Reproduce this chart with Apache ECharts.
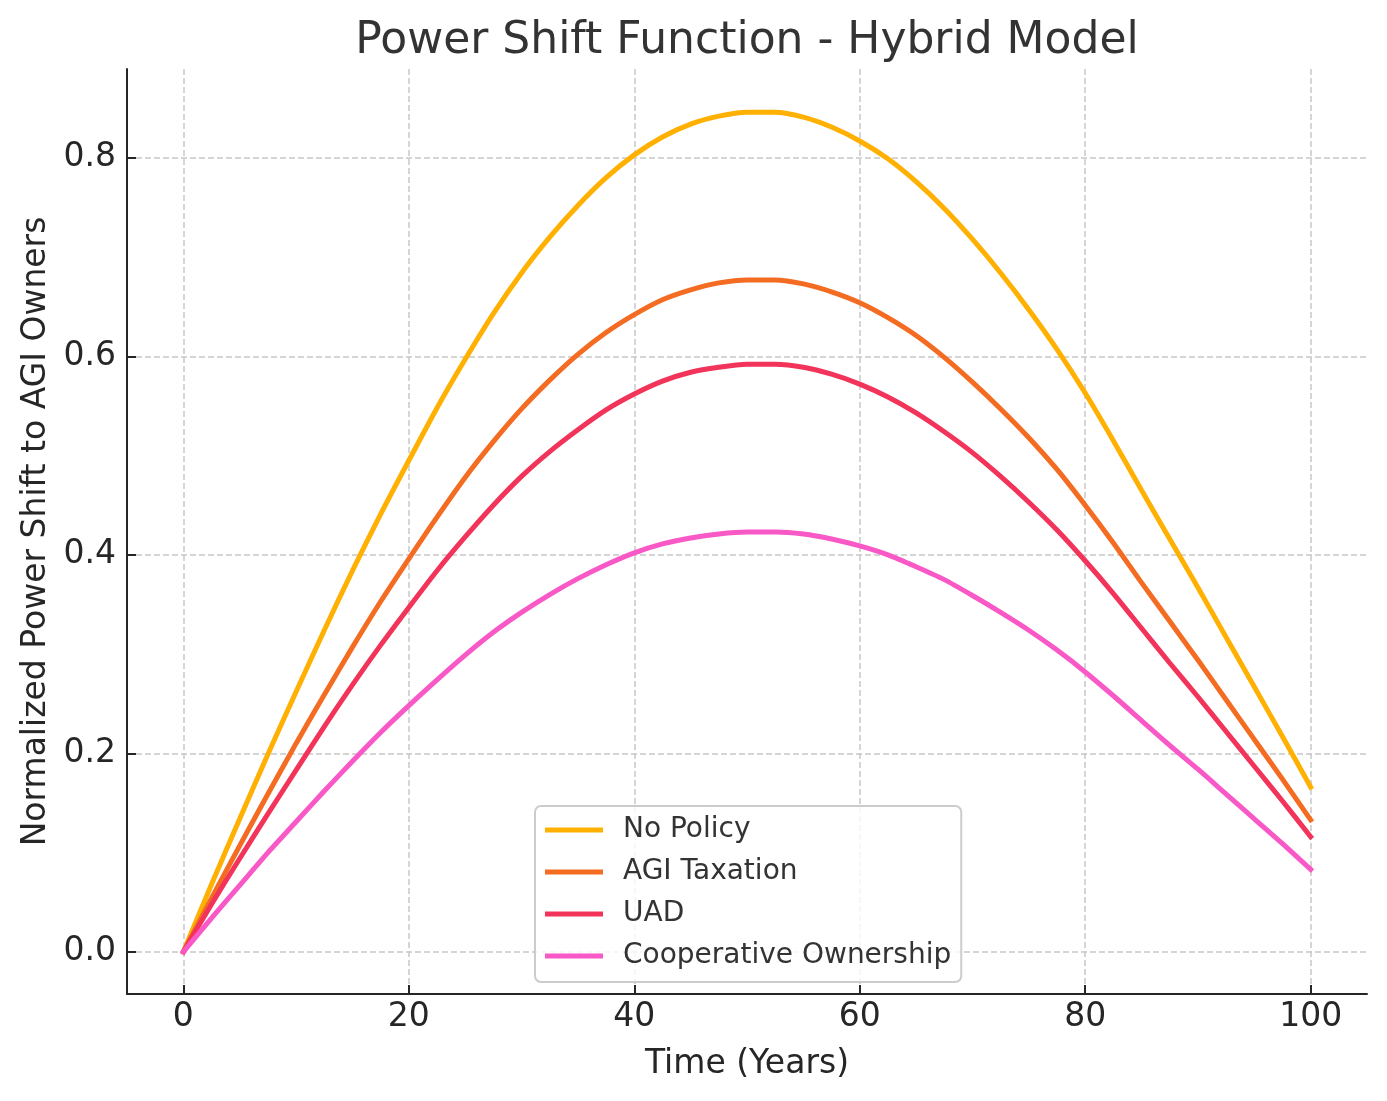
<!DOCTYPE html>
<html>
<head>
<meta charset="utf-8">
<script src="https://cdn.jsdelivr.net/npm/echarts@6/dist/echarts.min.js"></script>
<style>
  html, body { margin: 0; padding: 0; background: #ffffff; }
  #chart { width: 1387px; height: 1101px; }
</style>
</head>
<body>
<div id="chart"></div>
<script>
// ---- data (every 2.5 years) ----
const years = [0, 2.5, 5, 7.5, 10, 12.5, 15, 17.5, 20, 22.5, 25, 27.5, 30, 32.5, 35, 37.5, 40, 42.5, 45, 47.5, 50,
               52.5, 55, 57.5, 60, 62.5, 65, 67.5, 70, 72.5, 75, 77.5, 80, 82.5, 85, 87.5, 90, 92.5, 95, 97.5, 100];
const noPolicy = [0, 0.068, 0.134, 0.199, 0.262, 0.324, 0.384, 0.441, 0.495, 0.548, 0.597, 0.643, 0.684, 0.720, 0.752, 0.780, 0.803, 0.821, 0.834, 0.842, 0.846,
                  0.846, 0.841, 0.831, 0.817, 0.799, 0.776, 0.749, 0.718, 0.684, 0.647, 0.607, 0.563, 0.515, 0.465, 0.416, 0.367, 0.317, 0.267, 0.217, 0.166];
const agiTaxation = [0, 0.054, 0.107, 0.159, 0.210, 0.259, 0.307, 0.353, 0.396, 0.438, 0.478, 0.514, 0.547, 0.576, 0.602, 0.624, 0.642, 0.657, 0.667, 0.674, 0.677,
                     0.677, 0.673, 0.665, 0.654, 0.639, 0.621, 0.599, 0.574, 0.547, 0.518, 0.486, 0.450, 0.412, 0.372, 0.333, 0.294, 0.254, 0.214, 0.174, 0.133];
const uad = [0, 0.048, 0.094, 0.139, 0.183, 0.227, 0.269, 0.309, 0.347, 0.384, 0.418, 0.450, 0.479, 0.504, 0.526, 0.546, 0.562, 0.575, 0.584, 0.589, 0.592,
             0.592, 0.589, 0.582, 0.572, 0.559, 0.543, 0.524, 0.503, 0.479, 0.453, 0.425, 0.394, 0.361, 0.326, 0.291, 0.257, 0.222, 0.187, 0.152, 0.116];
const cooperative = [0, 0.034, 0.067, 0.100, 0.131, 0.162, 0.192, 0.221, 0.248, 0.274, 0.299, 0.322, 0.342, 0.360, 0.376, 0.390, 0.402, 0.411, 0.417, 0.421, 0.423,
                     0.423, 0.421, 0.416, 0.409, 0.400, 0.388, 0.375, 0.359, 0.342, 0.324, 0.304, 0.282, 0.258, 0.233, 0.208, 0.184, 0.159, 0.134, 0.109, 0.083];
const seriesNames = ['No Policy', 'AGI Taxation', 'UAD', 'Cooperative Ownership'];
const xTicks = [0, 20, 40, 60, 80, 100];
const yTicks = [0, 0.2, 0.4, 0.6, 0.8];

const colors = ['#FFB000', '#F46B22', '#F2345A', '#F859C6'];
const allValues = [noPolicy, agiTaxation, uad, cooperative];
const FONT = 'DejaVu Sans';

const chart = echarts.init(document.getElementById('chart'), null, { renderer: 'canvas' });

const series = allValues.map((vals, i) => ({
  name: seriesNames[i],
  type: 'line',
  data: years.map((x, j) => [x, vals[j]]),
  symbol: 'none',
  smooth: 0.25,
  lineStyle: { width: 5, color: colors[i], cap: 'square' },
  itemStyle: { color: colors[i] },
  z: 3 + i
}));

const gridStyle = { color: '#c8c8c8', width: 1.5, type: [6, 3] };

const option = {
  animation: false,
  backgroundColor: '#ffffff',
  title: {
    text: 'Power Shift Function - Hybrid Model',
    left: 747,
    top: 20,
    padding: 0,
    textAlign: 'center',
    textStyle: { fontFamily: FONT, fontSize: 44, fontWeight: 'normal', color: '#333333', lineHeight: 44 }
  },
  legend: {
    orient: 'vertical',
    left: 535,
    top: 806,
    padding: [9, 10, 11, 10],
    icon: 'rect',
    itemWidth: 58,
    itemHeight: 5,
    itemGap: 12,
    backgroundColor: 'rgba(255,255,255,0.8)',
    borderColor: '#cccccc',
    borderWidth: 2,
    borderRadius: 6,
    textStyle: { fontFamily: FONT, fontSize: 28, color: '#333333', lineHeight: 30, padding: [0, 0, 0, 15] },
    data: seriesNames
  },
  grid: { left: 127, right: 20, top: 69, bottom: 107, containLabel: false },
  xAxis: {
    type: 'value',
    min: -5,
    max: 105,
    name: 'Time (Years)',
    nameLocation: 'middle',
    nameGap: 54,
    nameTextStyle: { fontFamily: FONT, fontSize: 33, color: '#262626', lineHeight: 33 },
    axisLine: { show: true, onZero: false, lineStyle: { color: '#262626', width: 2 } },
    axisTick: { show: true, inside: true, length: 9, customValues: xTicks, lineStyle: { color: '#262626', width: 2 } },
    axisLabel: { show: true, margin: 7, customValues: xTicks, fontFamily: FONT, fontSize: 33, color: '#262626', lineHeight: 33,
      formatter: v => String(Math.round(v)) },
    splitLine: { show: true, lineStyle: gridStyle }
  },
  yAxis: {
    type: 'value',
    min: -0.0425,
    max: 0.8895,
    name: 'Normalized Power Shift to AGI Owners',
    nameLocation: 'middle',
    nameGap: 73,
    nameTextStyle: { fontFamily: FONT, fontSize: 33, color: '#262626', lineHeight: 33 },
    axisLine: { show: true, onZero: false, lineStyle: { color: '#262626', width: 2 } },
    axisTick: { show: true, inside: true, length: 9, customValues: yTicks, lineStyle: { color: '#262626', width: 2 } },
    axisLabel: { show: true, margin: 11, customValues: yTicks, fontFamily: FONT, fontSize: 33, color: '#262626', lineHeight: 33,
      formatter: v => v.toFixed(1) },
    splitLine: { show: true, lineStyle: gridStyle }
  },
  series: series
};

chart.setOption(option);
</script>
</body>
</html>
